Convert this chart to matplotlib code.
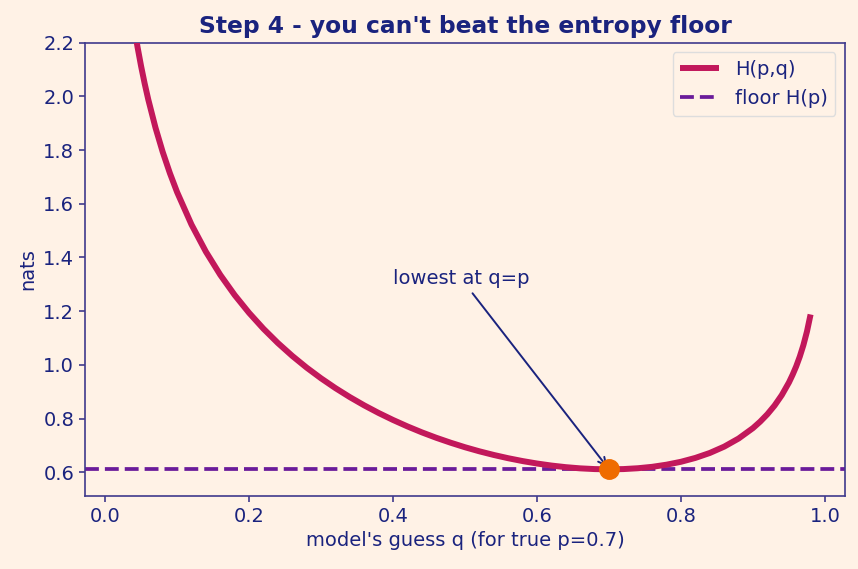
import matplotlib
matplotlib.use('Agg')
import matplotlib.pyplot as plt

# cross-entropy H(p,q), true p = 0.7
q = [0.02, 0.03, 0.035, 0.04, 0.045, 0.05, 0.055, 0.06, 0.07, 0.08, 0.09,
     0.10, 0.12, 0.14, 0.16, 0.18, 0.20, 0.22, 0.24, 0.26, 0.28, 0.30,
     0.32, 0.34, 0.36, 0.38, 0.40, 0.42, 0.44, 0.46, 0.48, 0.50, 0.52,
     0.54, 0.56, 0.58, 0.60, 0.62, 0.64, 0.66, 0.68, 0.70, 0.72, 0.74,
     0.76, 0.78, 0.80, 0.82, 0.84, 0.86, 0.88, 0.90, 0.91, 0.92, 0.93,
     0.94, 0.95, 0.955, 0.96, 0.965, 0.97, 0.975, 0.98]
h = [2.7445, 2.4637, 2.3574, 2.2655, 2.1846, 2.1124, 2.0473, 1.9880, 1.8833,
     1.7930, 1.7139, 1.6434, 1.5225, 1.4215, 1.3351, 1.2599, 1.1936, 1.1344,
     1.0813, 1.0333, 0.9896, 0.9498, 0.9133, 0.8798, 0.8490, 0.8207, 0.7947,
     0.7707, 0.7486, 0.7284, 0.7100, 0.6931, 0.6779, 0.6643, 0.6522, 0.6416,
     0.6325, 0.6249, 0.6189, 0.6145, 0.6118, 0.6109, 0.6118, 0.6149, 0.6202,
     0.6282, 0.6390, 0.6534, 0.6718, 0.6954, 0.7256, 0.7645, 0.7885, 0.8161,
     0.8485, 0.8873, 0.9346, 0.9629, 0.9942, 1.0307, 1.0733, 1.1244, 1.1877]
p_true = 0.7
floor = 0.6109

bg = '#fff2e6'
navy = '#1a237e'

fig = plt.figure(figsize=(8.58, 5.69), dpi=100, facecolor=bg)
ax = fig.add_axes([0.099, 0.128, 0.886, 0.797], facecolor=bg)

ax.plot(q, h, color='#c2185b', lw=4.3, label='H(p,q)', zorder=3,
        solid_capstyle='butt')
ax.axhline(floor, color='#6a1b9a', lw=2.7, ls='--', label='floor H(p)', zorder=2)
ax.plot([p_true], [floor], 'o', color='#ef6c00', ms=14, zorder=4)

ax.annotate('lowest at q=p', xy=(p_true, floor), xytext=(0.4, 1.3),
            color=navy, fontsize=14,
            arrowprops=dict(arrowstyle='->', color=navy, lw=1.4))

ax.set_xlim(-0.028, 1.028)
ax.set_ylim(floor - 0.1, 2.2)
ax.set_title("Step 4 - you can't beat the entropy floor", color=navy,
             fontsize=16.8, fontweight='bold', pad=7)
ax.set_xlabel("model's guess q (for true p=0.7)", color=navy, fontsize=14)
ax.set_ylabel('nats', color=navy, fontsize=14)

for s in ax.spines.values():
    s.set_color('#3f3a8c')
    s.set_linewidth(1.2)
ax.tick_params(colors='#3f3a8c', labelcolor=navy, labelsize=14, width=1.2, length=4.2)

leg = ax.legend(loc='upper right', fontsize=14, facecolor=bg, edgecolor='#dddddd',
                framealpha=1)
for t in leg.get_texts():
    t.set_color(navy)

fig.savefig('out.png', dpi=100, facecolor=bg)
